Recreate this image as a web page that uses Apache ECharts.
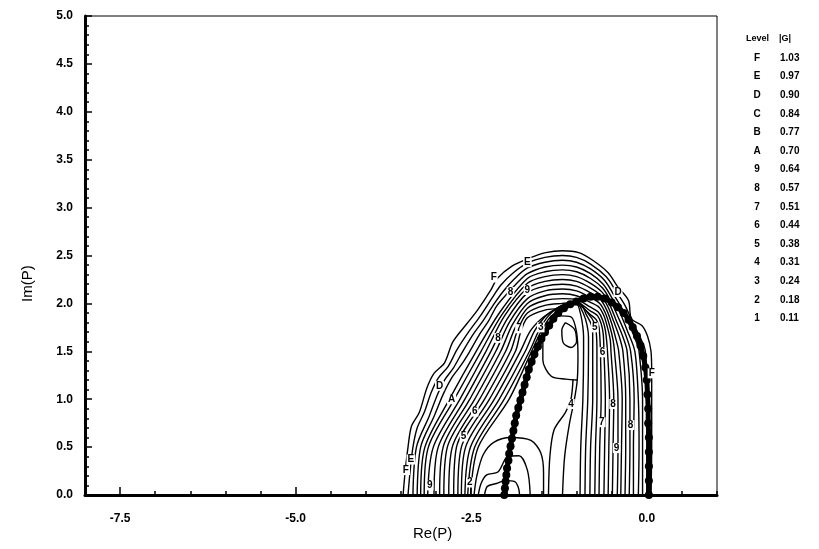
<!DOCTYPE html>
<html><head><meta charset="utf-8">
<script src="https://cdn.jsdelivr.net/npm/echarts@6/dist/echarts.min.js"></script>
<style>html,body{margin:0;padding:0;background:#fff}#c{width:819px;height:549px}</style>
</head><body><div id="c"></div>
<script>
// ---- contour lines |G| (Re(P), Im(P)) ----
const arch0 = [[-3.47,0],[-3.44,0.25],[-3.40,0.50],[-3.35,0.72],[-3.24,0.86],[-3.13,1.12],[-3.03,1.27],[-2.88,1.38],[-2.76,1.60],[-2.56,1.79],[-2.41,1.93],[-2.22,2.14],[-2.13,2.26],[-1.92,2.39],[-1.68,2.47],[-1.44,2.53],[-1.20,2.55],[-0.97,2.53],[-0.77,2.45],[-0.55,2.32],[-0.41,2.17],[-0.26,2.03],[-0.22,1.84],[-0.07,1.77],[0.01,1.66],[0.06,1.50],[0.07,1.27],[0.07,1.00],[0.07,0.50],[0.06,0]];
const arch1 = [[-3.40,0],[-3.37,0.25],[-3.33,0.5],[-3.27,0.70],[-3.17,0.86],[-3.07,1.07],[-2.97,1.22],[-2.83,1.34],[-2.70,1.52],[-2.52,1.72],[-2.37,1.87],[-2.20,2.06],[-2.08,2.19],[-1.90,2.32],[-1.7,2.42],[-1.45,2.48],[-1.2,2.50],[-1.0,2.48],[-0.8,2.41],[-0.58,2.28],[-0.44,2.13],[-0.31,1.98],[-0.2,1.80],[-0.09,1.64],[-0.02,1.5],[0.00,1.0],[0.00,0.5],[0.00,0]];
const arch2 = [[-3.33,0],[-3.28,0.5],[-3.10,0.82],[-2.98,1.05],[-2.88,1.20],[-2.75,1.33],[-2.62,1.50],[-2.47,1.68],[-2.33,1.82],[-2.17,2.00],[-2.04,2.13],[-1.88,2.26],[-1.7,2.37],[-1.45,2.43],[-1.2,2.45],[-1.0,2.43],[-0.8,2.36],[-0.6,2.24],[-0.47,2.09],[-0.35,1.94],[-0.24,1.76],[-0.15,1.6],[-0.11,1.5],[-0.06,1.0],[-0.06,0.5],[-0.06,0]];
const arch3 = [[-3.27,0],[-3.22,0.5],[-3.03,0.82],[-2.90,1.05],[-2.78,1.22],[-2.64,1.36],[-2.52,1.50],[-2.38,1.68],[-2.25,1.82],[-2.14,1.97],[-1.99,2.10],[-1.85,2.21],[-1.7,2.31],[-1.45,2.38],[-1.2,2.40],[-1.0,2.38],[-0.8,2.31],[-0.62,2.2],[-0.49,2.05],[-0.38,1.90],[-0.28,1.72],[-0.17,1.5],[-0.12,1.0],[-0.11,0.5],[-0.12,0]];
const arch4 = [[-3.22,0],[-3.16,0.5],[-2.81,1.0],[-2.43,1.5],[-2.09,1.91],[-1.7,2.26],[-1.45,2.33],[-1.2,2.35],[-1.0,2.33],[-0.8,2.26],[-0.63,2.16],[-0.51,2.02],[-0.41,1.86],[-0.31,1.69],[-0.23,1.5],[-0.18,1.0],[-0.19,0.5],[-0.19,0]];
const arch5 = [[-3.17,0],[-3.11,0.5],[-2.74,1.0],[-2.36,1.5],[-2.06,1.885],[-1.7,2.21],[-1.45,2.28],[-1.2,2.30],[-1.0,2.28],[-0.8,2.21],[-0.64,2.12],[-0.53,1.99],[-0.44,1.83],[-0.35,1.67],[-0.28,1.5],[-0.24,1.0],[-0.24,0.5],[-0.25,0]];
const arch6 = [[-3.12,0],[-3.04,0.5],[-2.66,1.0],[-2.29,1.5],[-2.03,1.865],[-1.7,2.16],[-1.45,2.23],[-1.2,2.25],[-1.0,2.23],[-0.8,2.16],[-0.65,2.08],[-0.55,1.96],[-0.47,1.81],[-0.39,1.65],[-0.34,1.5],[-0.30,1.0],[-0.30,0.5],[-0.31,0]];
const arch7 = [[-3.03,0],[-2.97,0.5],[-2.59,1.0],[-2.22,1.5],[-1.99,1.835],[-1.7,2.11],[-1.45,2.18],[-1.2,2.20],[-1.0,2.18],[-0.8,2.11],[-0.66,2.04],[-0.57,1.93],[-0.50,1.79],[-0.44,1.63],[-0.40,1.5],[-0.35,1.0],[-0.36,0.5],[-0.37,0]];
const arch8 = [[-2.95,0],[-2.90,0.5],[-2.52,1.0],[-2.15,1.5],[-1.955,1.805],[-1.7,2.05],[-1.45,2.13],[-1.2,2.15],[-1.0,2.13],[-0.8,2.06],[-0.67,2.0],[-0.59,1.9],[-0.53,1.77],[-0.48,1.62],[-0.46,1.5],[-0.41,1.0],[-0.41,0.5],[-0.42,0]];
const arch9 = [[-2.89,0],[-2.84,0.5],[-2.45,1.0],[-2.08,1.5],[-1.915,1.775],[-1.7,2.00],[-1.45,2.08],[-1.2,2.10],[-1.0,2.08],[-0.8,2.01],[-0.68,1.96],[-0.61,1.87],[-0.56,1.75],[-0.52,1.62],[-0.51,1.5],[-0.47,1.0],[-0.48,0.5],[-0.49,0]];
const arch10 = [[-2.82,0],[-2.77,0.5],[-2.38,1.0],[-2.01,1.5],[-1.875,1.745],[-1.7,1.95],[-1.45,2.03],[-1.2,2.05],[-1.0,2.04],[-0.8,1.96],[-0.69,1.91],[-0.63,1.83],[-0.59,1.72],[-0.56,1.5],[-0.53,1.0],[-0.54,0.5],[-0.55,0]];
const arch11 = [[-2.75,0],[-2.71,0.5],[-2.31,1.0],[-1.94,1.5],[-1.84,1.72],[-1.7,1.90],[-1.45,1.98],[-1.2,2.00],[-1.0,2.01],[-0.8,1.92],[-0.7,1.87],[-0.65,1.79],[-0.62,1.68],[-0.61,1.5],[-0.59,1.0],[-0.60,0.5],[-0.61,0]];
const arch12 = [[-2.69,0],[-2.64,0.5],[-2.24,1.0],[-1.87,1.5],[-1.80,1.69],[-1.7,1.85],[-1.45,1.93],[-1.2,1.95],[-1.0,1.99],[-0.8,1.88],[-0.72,1.83],[-0.68,1.75],[-0.66,1.5],[-0.65,1.0],[-0.67,0.5],[-0.68,0]];
const arch13 = [[-2.64,0],[-2.58,0.5],[-2.17,1.0],[-1.80,1.5],[-1.66,1.71],[-1.50,1.84],[-1.32,1.93],[-1.15,1.99],[-1.0,2.01],[-0.82,1.88],[-0.75,1.80],[-0.72,1.7],[-0.71,1.5],[-0.71,1.0],[-0.73,0.5],[-0.74,0]];
const arch14 = [[-2.59,0],[-2.51,0.5],[-2.10,1.0],[-1.73,1.5],[-1.60,1.71],[-1.45,1.86],[-1.28,1.95],[-1.1,2.0],[-0.95,2.0],[-0.86,1.88],[-0.79,1.78],[-0.77,1.68],[-0.77,1.5],[-0.77,1.0],[-0.80,0.5],[-0.81,0]];
const arch15 = [[-2.55,0],[-2.45,0.5],[-2.03,1.0],[-1.67,1.5],[-1.54,1.71],[-1.40,1.87],[-1.21,1.98],[-1.0,2.0],[-0.90,1.89],[-0.85,1.77],[-0.83,1.65],[-0.83,1.5],[-0.84,1.0],[-0.87,0.5],[-0.88,0]];
const arch16 = [[-2.51,0],[-2.40,0.5],[-1.96,1.0],[-1.64,1.5],[-1.51,1.70],[-1.37,1.86],[-1.18,1.96],[-1.0,1.99],[-0.94,1.88],[-0.91,1.75],[-0.90,1.65],[-0.90,1.5],[-0.91,1.0],[-0.94,0.5],[-0.95,0]];
const valley1 = [[-2.31,0],[-2.27,0.09],[-2.14,0.12],[-2.02,0.15],[-1.88,0.14],[-1.83,0.08],[-1.81,0]];
const valley2 = [[-2.40,0],[-2.36,0.12],[-2.28,0.21],[-2.12,0.24],[-1.98,0.40],[-1.82,0.41],[-1.70,0.26],[-1.66,0]];
const valley3 = [[-2.46,0],[-2.42,0.2],[-2.33,0.42],[-2.18,0.55],[-1.94,0.60],[-1.65,0.57],[-1.51,0.44],[-1.47,0.23],[-1.47,0]];
const loop4 = [[-1.20,0],[-1.17,0.40],[-1.10,0.75],[-1.03,1.0],[-0.99,1.2],[-0.98,1.45],[-1.00,1.70],[-1.08,1.86],[-1.25,1.87],[-1.40,1.77],[-1.48,1.62],[-1.48,1.41],[-1.36,1.24],[-1.15,1.21],[-0.99,1.2]];
const line4 = [[-1.40,0],[-1.38,0.40],[-1.32,0.68],[-1.16,0.86],[-1.08,1.0],[-1.05,1.21]];
const loop3 = [[-1.16,1.80],[-1.03,1.73],[-1.00,1.60],[-1.08,1.54],[-1.19,1.59],[-1.21,1.72],[-1.16,1.80]];
const contourLines = [arch0,arch1,arch2,arch3,arch4,arch5,arch6,arch7,arch8,arch9,arch10,arch11,arch12,arch13,arch14,arch15,arch16,valley1,valley2,valley3,loop4,line4,loop3];

// ---- thick locus (circles) ----
const locus = [[-2.03,0.00],[-2.02,0.07],[-2.01,0.14],[-2.00,0.21],[-1.99,0.28],[-1.97,0.36],[-1.96,0.43],[-1.94,0.51],[-1.92,0.59],[-1.90,0.67],[-1.88,0.75],[-1.86,0.83],[-1.83,0.91],[-1.80,0.99],[-1.77,1.07],[-1.74,1.15],[-1.71,1.23],[-1.68,1.31],[-1.64,1.39],[-1.60,1.47],[-1.55,1.55],[-1.50,1.63],[-1.45,1.70],[-1.39,1.77],[-1.33,1.84],[-1.26,1.90],[-1.18,1.95],[-1.09,1.99],[-1.00,2.02],[-0.90,2.05],[-0.80,2.07],[-0.70,2.07],[-0.60,2.05],[-0.50,2.01],[-0.41,1.96],[-0.33,1.90],[-0.26,1.83],[-0.20,1.75],[-0.14,1.66],[-0.09,1.56],[-0.05,1.45],[-0.02,1.33],[0.00,1.20],[0.01,1.05],[0.02,0.90],[0.02,0.75],[0.03,0.60],[0.03,0.45],[0.03,0.30],[0.03,0.15],[0.03,0.00]];

// ---- contour labels ----
const labelText = ['F','E','8','9','7','8','3','D','A','6','5','E','F','9','2','4','5','6','D','F','8','7','8','9'];
const labelX = [-2.18,-1.70,-1.94,-1.70,-1.82,-2.12,-1.51,-2.95,-2.78,-2.45,-2.61,-3.36,-3.43,-3.09,-2.52,-1.08,-0.74,-0.63,-0.41,0.07,-0.48,-0.64,-0.23,-0.43];
const labelY = [2.27,2.43,2.12,2.14,1.74,1.64,1.75,1.14,1.00,0.87,0.61,0.37,0.26,0.10,0.13,0.95,1.75,1.49,2.12,1.27,0.95,0.76,0.73,0.49];

// ---- level table ----
const legendLevels = ['F','E','D','C','B','A','9','8','7','6','5','4','3','2','1'];
const legendValues = ['1.03','0.97','0.90','0.84','0.77','0.70','0.64','0.57','0.51','0.44','0.38','0.31','0.24','0.18','0.11'];

// ---- axes ----
const xLabelValues = [-7.5,-5,-2.5,0];
const xRange = [-8, 1];
const yRange = [0, 5];

const FONT = 'Liberation Sans, Arial, Helvetica, sans-serif';
const chart = echarts.init(document.getElementById('c'), null, {renderer:'canvas'});

const series = contourLines.map(pts => ({
  type:'line', data:pts, symbol:'none', showSymbol:false, smooth:0.3,
  lineStyle:{color:'#000', width:1.4}, silent:true, z:2, animation:false
}));
series.push({
  type:'line', data:locus, symbol:'circle', symbolSize:8, showSymbol:true, smooth:0.3,
  itemStyle:{color:'#000', borderWidth:0}, lineStyle:{color:'#000', width:5}, z:6, silent:true, animation:false
});

const baseGraphics = [
  {type:'text', left:413, top:526, style:{text:'Re(P)', font:'15px '+FONT, fill:'#000'}},
  {type:'text', x:20, y:302, rotation:Math.PI/2, style:{text:'Im(P)', font:'15px '+FONT, fill:'#000'}},
  {type:'text', x:746, y:34, style:{text:'Level', font:'bold 9px '+FONT, fill:'#000'}},
  {type:'text', x:779, y:34, style:{text:'|G|', font:'bold 9px '+FONT, fill:'#000'}}
];
legendLevels.forEach((lv,i)=>{
  const y = 53 + i*18.6;
  baseGraphics.push({type:'text', x:757, y:y, style:{text:lv, font:'bold 10px '+FONT, fill:'#000', textAlign:'center'}});
  baseGraphics.push({type:'text', x:780, y:y, style:{text:legendValues[i], font:'bold 10px '+FONT, fill:'#000'}});
});

chart.setOption({
  animation:false,
  backgroundColor:'#fff',
  grid:{left:85, right:102, top:16, bottom:54, show:true, borderColor:'#000', borderWidth:1, backgroundColor:'transparent'},
  xAxis:[{
    type:'value', min:xRange[0], max:xRange[1], interval:0.5,
    axisLine:{show:true, onZero:false, lineStyle:{color:'#000', width:3}},
    axisTick:{show:true, inside:true, length:4, lineStyle:{color:'#000', width:1.5}},
    axisLabel:{color:'#000', fontSize:12, fontWeight:'bold', fontFamily:FONT, margin:18,
      formatter:v=> xLabelValues.some(t=>Math.abs(t-v)<1e-9) ? v.toFixed(1) : ''},
    splitLine:{show:false}
  },{
    type:'value', min:xRange[0], max:xRange[1], position:'bottom',
    axisLine:{show:false}, axisLabel:{show:false}, splitLine:{show:false},
    axisTick:{show:true, inside:true, length:8, customValues:xLabelValues, lineStyle:{color:'#000', width:1.5}}
  }],
  yAxis:{
    type:'value', min:yRange[0], max:yRange[1], interval:0.5,
    axisLine:{show:true, onZero:false, lineStyle:{color:'#000', width:3}},
    axisTick:{show:true, inside:true, length:7, lineStyle:{color:'#000', width:1.5}},
    minorTick:{show:true, splitNumber:5, length:4, lineStyle:{color:'#000', width:1.5}},
    axisLabel:{color:'#000', fontSize:12, fontWeight:'bold', fontFamily:FONT, margin:12, formatter:v=>v.toFixed(1)},
    splitLine:{show:false}
  },
  series: series,
  graphic: baseGraphics
});

// contour labels placed through the chart's own coordinate system
const labelGraphics = labelText.map((t,i)=>{
  const p = chart.convertToPixel({xAxisIndex:0, yAxisIndex:0}, [labelX[i], labelY[i]]);
  return {type:'text', x:p[0], y:p[1], z:50,
    style:{text:t, font:'bold 10px '+FONT, fill:'#000', align:'center', verticalAlign:'middle',
           backgroundColor:'#fff', padding:[0,1]}};
});
chart.setOption({graphic: baseGraphics.concat(labelGraphics)});
</script></body></html>
